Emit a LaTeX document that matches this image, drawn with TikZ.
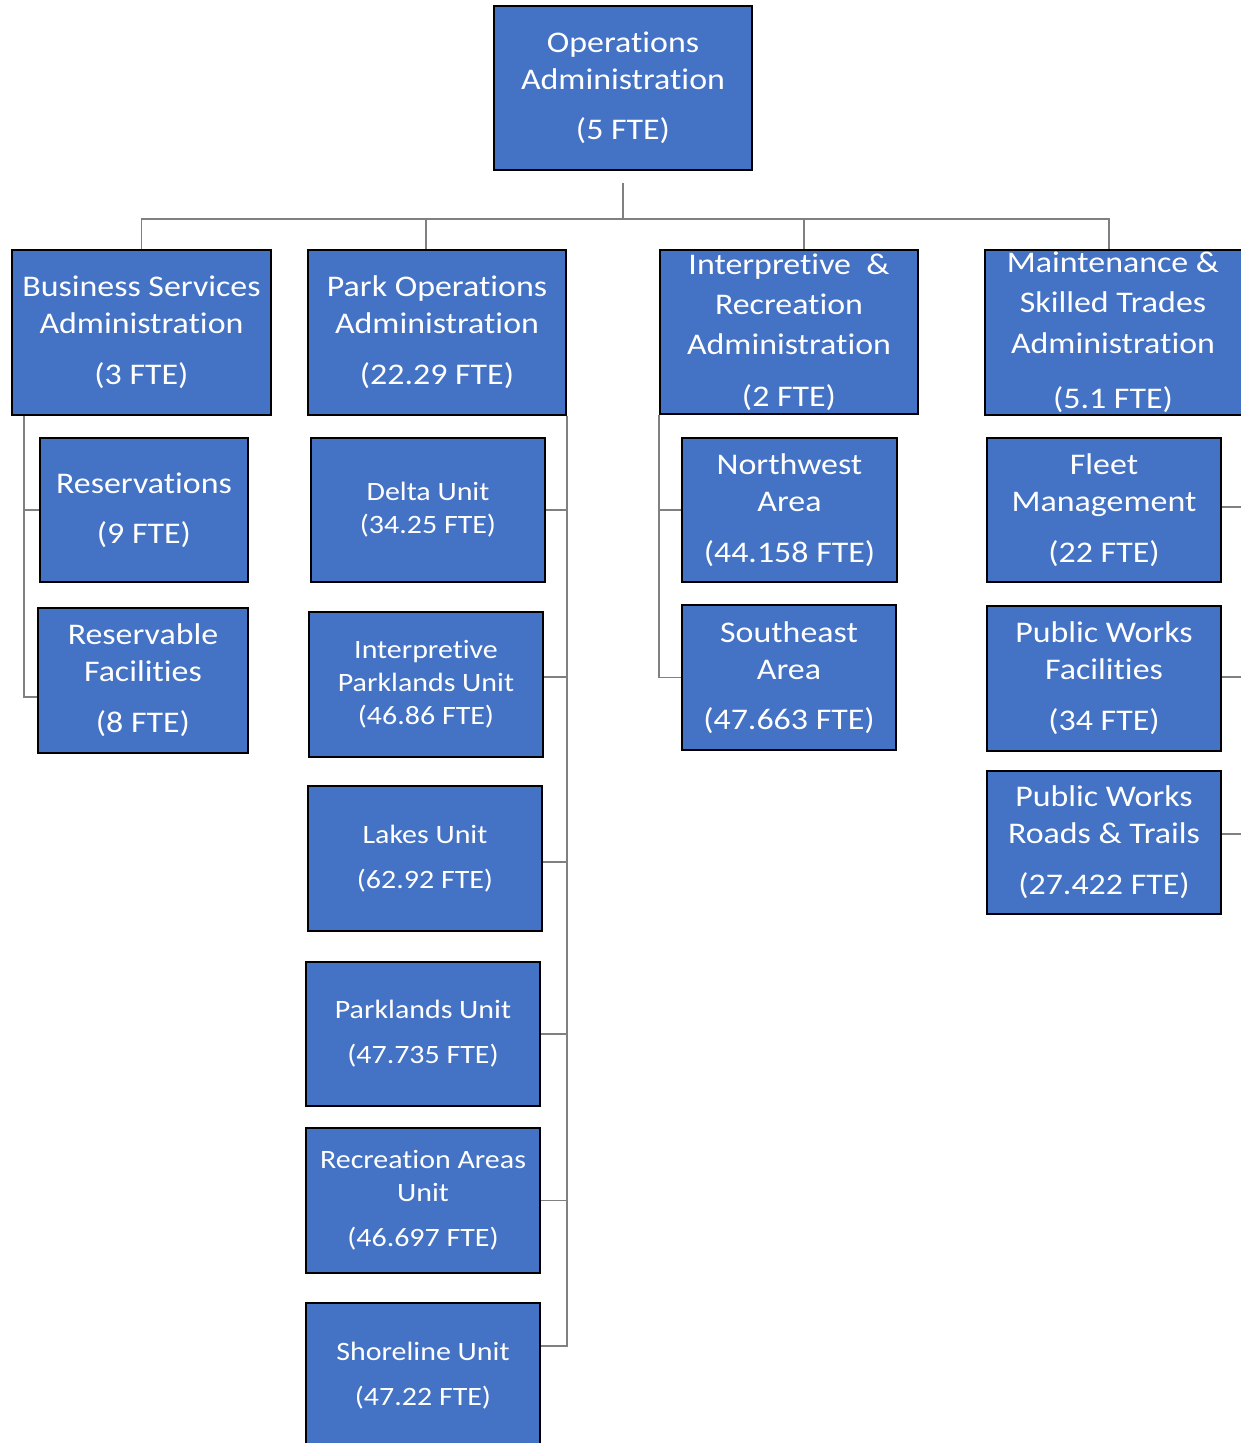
\documentclass[tikz,border=0pt]{standalone}
\usepackage{fontspec}
\setmainfont{Carlito}[FakeStretch=1.13, Ligatures=NoCommon]
\definecolor{boxblue}{HTML}{4472C4}
\definecolor{linegray}{HTML}{808080}
\tikzset{
  orgbox/.style={draw=black, line width=2pt, fill=boxblue, text=white, align=center, inner sep=0pt},
  bigtxt/.style={font={\fontsize{30}{37}\selectfont}},
  smalltxt/.style={font={\fontsize{26.5}{33}\selectfont}},
  conn/.style={draw=linegray, line width=1.4pt},
}
\begin{document}
\begin{tikzpicture}[x=1pt,y=-1pt]
\useasboundingbox (0,0) rectangle (1241,1443);
\fill[white] (0,0) rectangle (1241,1443);
\clip (0,0) rectangle (1241,1443);

% top
\node[orgbox,bigtxt,minimum width=258pt,minimum height=164pt] (ops) at (623,88)
  {Operations\\Administration\\[13pt](5 FTE)};

% second level
\node[orgbox,bigtxt,minimum width=259pt,minimum height=165pt] (bsa) at (141.5,332.5)
  {Business Services\\Administration\\[14pt](3 FTE)};
\node[orgbox,bigtxt,minimum width=258pt,minimum height=165pt] (poa) at (437,332.5)
  {Park Operations\\Administration\\[14pt](22.29 FTE)};
\node[orgbox,font={\fontsize{30}{40}\selectfont},minimum width=258pt,minimum height=164pt] (ira) at (789,332)
  {Interpretive\ \ \&\\Recreation\\Administration\\[12pt](2 FTE)};
\node[orgbox,font={\fontsize{30}{40.5}\selectfont},minimum width=262pt,minimum height=165pt] (msta) at (1116,332.5)
  {\hspace*{-6pt}Maintenance \&\\\hspace*{-6pt}Skilled Trades\\\hspace*{-6pt}Administration\\[15pt]\hspace*{-6pt}(5.1 FTE)};

% business services children
\node[orgbox,bigtxt,minimum width=208pt,minimum height=144pt] (res) at (144,510)
  {Reservations\\[13pt](9 FTE)};
\node[orgbox,bigtxt,minimum width=210pt,minimum height=145pt] (rf) at (143,680.5)
  {Reservable\\Facilities\\[14pt](8 FTE)};

% park operations children
\node[orgbox,smalltxt,minimum width=234pt,minimum height=144pt] (delta) at (428,510)
  {Delta Unit\\(34.25 FTE)};
\node[orgbox,smalltxt,minimum width=234pt,minimum height=145pt] (ipu) at (426,684.5)
  {Interpretive\\Parklands Unit\\(46.86 FTE)};
\node[orgbox,smalltxt,minimum width=234pt,minimum height=145pt] (lakes) at (425,858.5)
  {Lakes Unit\\[12pt](62.92 FTE)};
\node[orgbox,smalltxt,minimum width=234pt,minimum height=144pt] (park) at (423,1034)
  {Parklands Unit\\[12pt](47.735 FTE)};
\node[orgbox,smalltxt,minimum width=234pt,minimum height=145pt] (rec) at (423,1200.5)
  {Recreation Areas\\Unit\\[12pt](46.697 FTE)};
\node[orgbox,smalltxt,minimum width=234pt,minimum height=145pt] (shore) at (423,1375.5)
  {Shoreline Unit\\[12pt](47.22 FTE)};

% interpretive children
\node[orgbox,bigtxt,minimum width=215pt,minimum height=144pt] (nw) at (789.5,510)
  {Northwest\\Area\\[14pt](44.158 FTE)};
\node[orgbox,bigtxt,minimum width=214pt,minimum height=145pt] (se) at (789,677.5)
  {Southeast\\Area\\[13pt](47.663 FTE)};

% maintenance children
\node[orgbox,bigtxt,minimum width=234pt,minimum height=144pt] (fleet) at (1104,510)
  {Fleet\\Management\\[14pt](22 FTE)};
\node[orgbox,bigtxt,minimum width=234pt,minimum height=145pt] (pwf) at (1104,678.5)
  {Public Works\\Facilities\\[14pt](34 FTE)};
\node[orgbox,bigtxt,minimum width=234pt,minimum height=143pt] (pwrt) at (1104,842.5)
  {Public Works\\Roads \& Trails\\[14pt](27.422 FTE)};

% connectors top
\coordinate (opsdrop) at (623,183);
\coordinate (bus) at (623,219);
\draw[conn] (opsdrop) -- (bus);
\draw[conn] (bsa.north) |- (bus) -| ([xshift=-7pt]msta.north);
\draw[conn] ([xshift=-11pt]poa.north) -- ([xshift=-11pt]poa.north |- bus);
\draw[conn] ([xshift=15pt]ira.north) -- ([xshift=15pt]ira.north |- bus);

% business services
\draw[conn] ([xshift=13pt]bsa.south west) |- ([yshift=-16.5pt]rf.west);
\draw[conn] ([xshift=13pt]bsa.south west) |- (res.west);

% park operations
\draw[conn] (poa.south east) |- ([yshift=29.5pt]shore.east);
\draw[conn] (delta.east) -- (delta.east -| poa.south east);
\draw[conn] ([yshift=7.5pt]ipu.east) -- ([yshift=7.5pt]ipu.east -| poa.south east);
\draw[conn] ([yshift=-3.5pt]lakes.east) -- ([yshift=-3.5pt]lakes.east -| poa.south east);
\draw[conn] (park.east) -- (park.east -| poa.south east);
\draw[conn] (rec.east) -- (rec.east -| poa.south east);

% interpretive
\draw[conn] (ira.south west) |- (se.west);
\draw[conn] (nw.west) -- (nw.west -| ira.south west);

% maintenance
\coordinate (mright) at (1255,415);
\draw[conn] (mright) |- ([yshift=8.5pt]pwrt.east);
\draw[conn] ([yshift=3pt]fleet.east) -- ([yshift=3pt]fleet.east -| mright);
\draw[conn] ([yshift=1.5pt]pwf.east) -- ([yshift=1.5pt]pwf.east -| mright);
\end{tikzpicture}
\end{document}
